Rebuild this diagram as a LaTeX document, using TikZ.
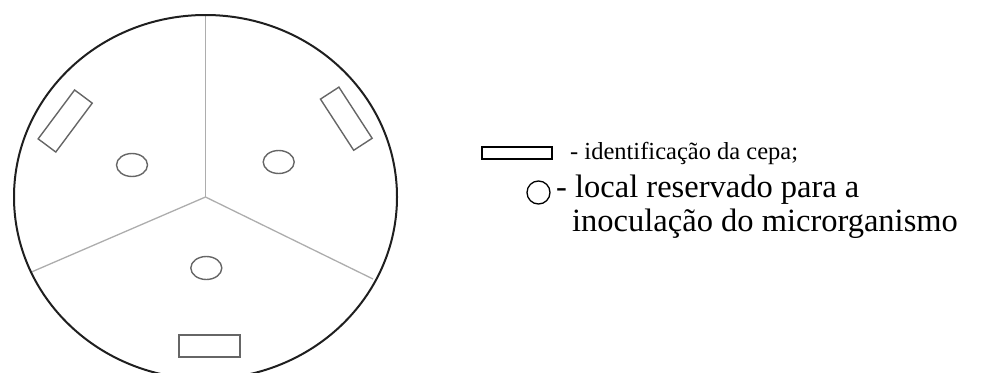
\documentclass[tikz,border=0pt]{standalone}
\usepackage{fontspec}
\setmainfont{Liberation Serif}
\usetikzlibrary{shapes.geometric}
\begin{document}
\begin{tikzpicture}[x=1pt,y=-1pt,
  plate/.style={draw=black!88,line width=2pt},
  divider/.style={draw=black!32,line width=1.3pt},
  labelbox/.style={draw=black!60,line width=1.4pt,rectangle,inner sep=0pt,minimum width=61pt,minimum height=22pt},
  spot/.style={draw=black!60,line width=1.4pt,ellipse,inner sep=0pt,minimum width=31pt,minimum height=23pt},
  keybox/.style={draw=black,line width=1.3pt,rectangle,inner sep=0pt,minimum width=70pt,minimum height=12pt},
  keyspot/.style={draw=black,line width=1.3pt,circle,inner sep=0pt,minimum size=23pt},
  legend/.style={anchor=base west,inner sep=0pt},
  small/.style={font=\fontsize{24.5}{28}\selectfont},
  large/.style={font=\fontsize{32.5}{38}\selectfont}]
\useasboundingbox (0,0) rectangle (984,372);
\clip (0,0) rectangle (984,372);

% petri dish, split into three sectors
\coordinate (hub) at (205.5,197);
\coordinate (rimN) at (205.5,15);
\coordinate (rimSW) at (31.5,272);
\coordinate (rimSE) at (373,279);
\draw[divider] (hub) -- (rimN);
\draw[divider] (hub) -- (rimSW);
\draw[divider] (hub) -- (rimSE);
\draw[plate] (hub) ellipse [x radius=191.5,y radius=182];

% strain labels and inoculation spots
\node[labelbox,rotate=53.3] (boxL) at (65.2,121) {};
\node[labelbox,rotate=-57] (boxR) at (346.3,118.7) {};
\node[labelbox] (boxB) at (209.5,346) {};
\node[spot] (spotL) at (132,165) {};
\node[spot] (spotR) at (278.7,162) {};
\node[spot] (spotB) at (206.3,268) {};

% key
\node[keybox] (keyA) at (517,153) {};
\node[keyspot] (keyB) at (538.5,192.5) {};
\node[legend,small] (txtA) at (570,159.5) {- identificação da cepa;};
\node[legend,large] (txtB) at (556,197) {- local reservado para a};
\node[legend,large] (txtC) at (572,231) {inoculação do microrganismo};
\end{tikzpicture}
\end{document}
